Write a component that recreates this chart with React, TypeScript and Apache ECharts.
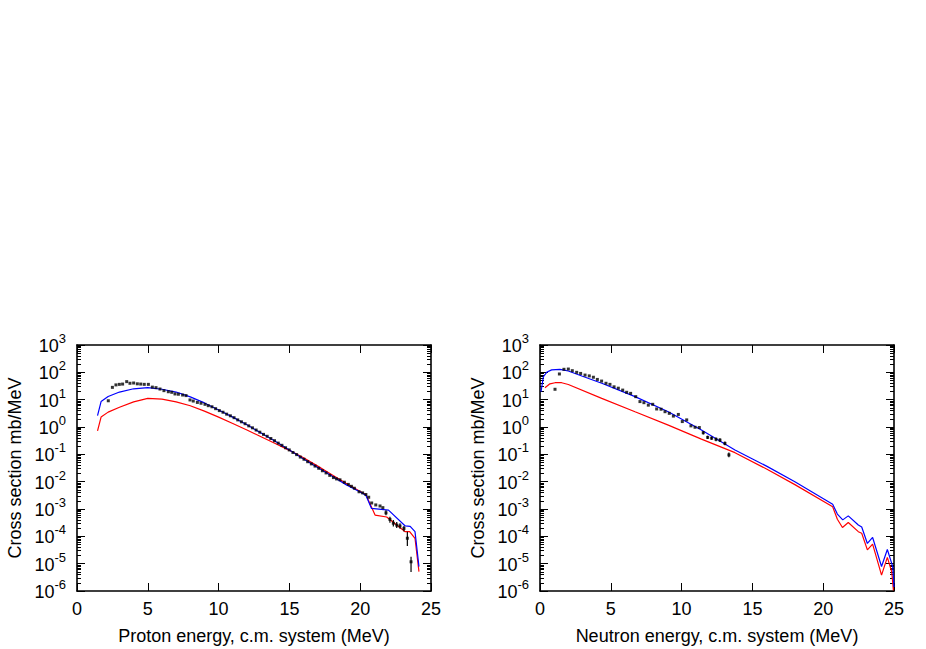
import React, { useEffect, useRef } from "react";
import * as echarts from "echarts";

// ---------- data ----------
// Left panel: proton spectrum
const protonBlue: [number, number][] = [
  [1.45, 2.6], [1.7, 8.5], [2.2, 13], [3.0, 19], [4.0, 25], [5.0, 27.5], [6.0, 24],
  [7.0, 19], [8.0, 12.6], [9.0, 7.6], [10.0, 4.2], [11.0, 2.3], [12.0, 1.2], [13.0, 0.6],
  [14.0, 0.3], [15.0, 0.145], [16.0, 0.068], [17.0, 0.033], [18.0, 0.016], [19.0, 0.0078],
  [20.0, 0.0042], [20.4, 0.0032], [20.8, 0.00105], [22.0, 0.00091], [23.18, 0.00024],
  [23.53, 0.00023], [23.87, 0.000148], [24.15, 0.0000078],
];
const protonRed: [number, number][] = [
  [1.45, 0.72], [1.7, 2.3], [2.2, 3.5], [3.0, 5.3], [4.0, 8.3], [5.0, 11.2], [6.0, 10.5],
  [7.0, 8.3], [8.0, 6.0], [9.0, 3.8], [10.0, 2.3], [11.0, 1.35], [12.0, 0.78], [13.0, 0.44],
  [14.0, 0.25], [15.0, 0.14], [16.0, 0.075], [17.0, 0.037], [18.0, 0.018], [19.0, 0.0088],
  [20.0, 0.0044], [20.4, 0.0034], [21.05, 0.0006], [21.87, 0.00051], [23.18, 0.000148],
  [23.49, 0.000148], [23.87, 0.000085], [24.15, 0.0000051],
];
const protonData: [number, number][] = [
  [2.21, 9.12], [2.5, 28.2], [2.75, 34.7], [2.99, 36.3], [3.22, 37.2], [3.51, 45.7], [3.74, 39.8],
  [4.0, 40.7], [4.26, 38.0], [4.5, 37.2], [4.75, 36.3], [5.04, 36.3], [5.32, 28.8], [5.58, 27.5],
  [5.86, 24.5], [6.14, 21.4], [6.45, 19.5], [6.69, 18.6], [6.92, 16.2], [7.16, 15.8], [7.46, 14.8],
  [7.7, 14.1], [7.98, 9.77], [8.21, 8.91], [8.5, 7.94], [8.76, 7.41], [9.04, 6.76], [9.27, 6.03],
  [9.53, 5.5], [9.79, 4.68], [10.05, 3.98], [10.31, 3.47], [10.57, 2.95], [10.83, 2.57],
  [11.09, 2.19], [11.35, 1.82], [11.61, 1.55], [11.87, 1.32], [12.13, 1.1], [12.39, 0.933],
  [12.65, 0.776], [12.91, 0.646], [13.17, 0.537], [13.43, 0.457], [13.69, 0.38], [13.95, 0.316],
  [14.21, 0.257], [14.47, 0.214], [14.73, 0.174], [14.99, 0.145], [15.25, 0.117], [15.51, 0.0977],
  [15.77, 0.0794], [16.03, 0.0661], [16.29, 0.0537], [16.55, 0.0447], [16.81, 0.0372],
  [17.07, 0.0309], [17.33, 0.0251], [17.59, 0.0209], [17.85, 0.017], [18.11, 0.0141],
  [18.33, 0.0126], [18.57, 0.0117], [18.88, 0.00955], [19.16, 0.00794], [19.38, 0.00676],
  [19.59, 0.00575], [19.92, 0.00427], [20.17, 0.00389], [20.4, 0.00339], [20.6, 0.00269],
  [20.81, 0.00166], [21.1, 0.00141], [21.4, 0.00129], [21.6, 0.00112], [21.82, 0.000724],
  [22.1, 0.000417], [22.34, 0.000302], [22.58, 0.000257], [22.81, 0.00024], [23.09, 0.000195],
  [23.33, 0.0000851], [23.59, 0.0000117],
];
const protonErr: [number, number, number][] = [
  [21.82, 0.000589, 0.000891], [22.1, 0.000316, 0.000525], [22.34, 0.000229, 0.000398],
  [22.58, 0.0002, 0.000331], [22.81, 0.000191, 0.000302], [23.09, 0.000151, 0.00024],
  [23.33, 0.0000447, 0.000148], [23.59, 0.000005, 0.0000178],
];

// Right panel: neutron spectrum
const neutronBlue: [number, number][] = [
  [0.07, 19.5], [0.24, 69], [0.47, 100], [0.82, 123], [1.41, 129], [2.0, 112], [3.0, 72],
  [4.36, 40], [6.71, 12.9], [9.06, 3.6], [11.4, 0.78], [13.77, 0.145], [16.0, 0.037],
  [18.0, 0.01], [20.67, 0.0015], [21.0, 0.00065], [21.38, 0.0004], [21.77, 0.00056],
  [22.48, 0.00026], [22.72, 0.00022], [23.12, 0.000055], [23.49, 0.000091], [24.12, 0.0000079],
  [24.53, 0.000033], [24.91, 0.0000078], [25.0, 0.0000014],
];
const neutronRed: [number, number][] = [
  [0.35, 27.5], [0.7, 38], [1.06, 41.7], [1.53, 41.7], [2.0, 36], [4.36, 11.2], [6.71, 3.6],
  [9.06, 1.17], [11.4, 0.36], [13.77, 0.115], [16.0, 0.029], [18.0, 0.0078], [20.67, 0.0012],
  [21.0, 0.00042], [21.36, 0.00021], [21.77, 0.00032], [22.48, 0.000148], [22.72, 0.000129],
  [23.12, 0.000032], [23.49, 0.000052], [24.12, 0.0000038], [24.53, 0.000017], [24.84, 0.000005],
  [24.96, 0.00000105],
];
const neutronData: [number, number][] = [
  [1.06, 24.0], [1.37, 87.1], [1.69, 129], [2.0, 132], [2.28, 115], [2.59, 100], [2.87, 91.2],
  [3.18, 79.4], [3.48, 74.1], [3.77, 66.1], [4.05, 55.0], [4.35, 47.9], [4.66, 39.8], [4.94, 36.3],
  [5.23, 29.5], [5.53, 26.3], [5.84, 22.4], [6.12, 18.6], [6.4, 17.0], [6.76, 12.9], [7.06, 8.51],
  [7.34, 7.76], [7.65, 6.31], [7.96, 6.76], [8.24, 4.57], [8.55, 4.47], [8.83, 3.63], [9.13, 3.16],
  [9.42, 2.51], [9.77, 2.88], [10.05, 1.58], [10.36, 1.82], [10.66, 1.1], [10.95, 0.977],
  [11.25, 0.955], [11.53, 0.617], [11.84, 0.417], [12.12, 0.389], [12.43, 0.355], [12.71, 0.331],
  [13.06, 0.251], [13.34, 0.0955],
];
const neutronErr: [number, number, number][] = [
  [11.53, 0.537, 0.708], [11.84, 0.363, 0.479], [12.12, 0.339, 0.447], [12.43, 0.302, 0.417],
  [12.71, 0.282, 0.389], [13.06, 0.214, 0.295], [13.34, 0.0776, 0.117],
];

const xTitles = ["Proton energy, c.m. system (MeV)", "Neutron energy, c.m. system (MeV)"];
const yTitle = "Cross section mb/MeV";
const yExponents = [-6, -5, -4, -3, -2, -1, 0, 1, 2, 3];

// ---------- chart ----------
const FONT = '"Liberation Sans", Arial, Helvetica, sans-serif';
const BLUE = "#0000ff";
const RED = "#ff0000";

const minorValues: number[] = [];
for (let d = yExponents[0]; d < yExponents[yExponents.length - 1]; d++) {
  for (let m = 2; m <= 9; m++) minorValues.push(m * Math.pow(10, d));
}
const majorValues = yExponents.map((e) => Math.pow(10, e));

const axisLine = { show: true, onZero: false, lineStyle: { color: "#000", width: 1.6 } };

function xAxes(g: number) {
  const base = {
    type: "value" as const,
    gridIndex: g,
    min: 0,
    max: 25,
    interval: 5,
    splitLine: { show: false },
    axisLine,
    axisTick: { inside: true, length: 8, lineStyle: { color: "#000", width: 1 } },
  };
  return [
    {
      ...base,
      position: "bottom",
      axisLabel: { color: "#000", fontSize: 18, fontFamily: FONT, margin: 9 },
      name: xTitles[g],
      nameLocation: "middle",
      nameGap: 36,
      nameTextStyle: { color: "#000", fontSize: 18, fontFamily: FONT },
    },
    { ...base, position: "top", axisLabel: { show: false } },
  ];
}

function yAxes(g: number) {
  const base = {
    type: "log" as const,
    logBase: 10,
    gridIndex: g,
    min: 1e-6,
    max: 1e3,
    interval: 1,
    splitLine: { show: false },
    minorTick: { show: false },
  };
  const major = {
    ...base,
    axisLine,
    axisTick: {
      inside: true,
      length: 8,
      customValues: majorValues,
      lineStyle: { color: "#000", width: 1 },
    },
  };
  const minor = {
    ...base,
    axisLine: { show: false, onZero: false },
    axisLabel: { show: false },
    axisTick: {
      inside: true,
      length: 4,
      customValues: minorValues,
      lineStyle: { color: "#000", width: 1 },
    },
  };
  return [
    {
      ...major,
      position: "left",
      axisLabel: {
        margin: 11,
        customValues: majorValues,
        formatter: (v: number) => `{b|10}{s|${Math.round(Math.log10(v))}}`,
        rich: {
          b: { fontSize: 18, fontFamily: FONT, color: "#000", lineHeight: 20, verticalAlign: "bottom" },
          s: {
            fontSize: 13,
            fontFamily: FONT,
            color: "#000",
            lineHeight: 13,
            padding: [0, 0, 10, 0],
            verticalAlign: "bottom",
          },
        },
      },
      name: yTitle,
      nameLocation: "middle",
      nameRotate: 90,
      nameGap: 53,
      nameTextStyle: { color: "#000", fontSize: 18, fontFamily: FONT },
    },
    { ...major, position: "right", axisLabel: { show: false } },
    { ...minor, position: "left" },
    { ...minor, position: "right" },
  ];
}

function panelSeries(
  g: number,
  blue: [number, number][],
  red: [number, number][],
  pts: [number, number][],
  err: [number, number, number][]
) {
  const xi = g * 2;
  const yi = g * 4;
  return [
    {
      type: "line",
      xAxisIndex: xi,
      yAxisIndex: yi,
      data: blue,
      showSymbol: false,
      lineStyle: { color: BLUE, width: 1.2 },
      itemStyle: { color: BLUE },
      z: 3,
    },
    {
      type: "line",
      xAxisIndex: xi,
      yAxisIndex: yi,
      data: red,
      showSymbol: false,
      lineStyle: { color: RED, width: 1.2 },
      itemStyle: { color: RED },
      z: 2,
    },
    {
      type: "custom",
      xAxisIndex: xi,
      yAxisIndex: yi,
      data: err,
      encode: { x: 0, y: [1, 2] },
      renderItem: (_p: any, api: any) => {
        const a = api.coord([api.value(0), api.value(1)]);
        const b = api.coord([api.value(0), api.value(2)]);
        return {
          type: "line",
          shape: { x1: a[0], y1: a[1], x2: b[0], y2: b[1] },
          style: { stroke: "#000", lineWidth: 1.2 },
        };
      },
      z: 4,
    },
    {
      type: "scatter",
      xAxisIndex: xi,
      yAxisIndex: yi,
      data: pts,
      symbol: "rect",
      symbolSize: 3,
      itemStyle: { color: "#000" },
      z: 5,
    },
  ];
}

export default function App() {
  const ref = useRef<HTMLDivElement>(null);
  useEffect(() => {
    if (!ref.current) return;
    const chart = echarts.init(ref.current, null, { renderer: "svg" });
    chart.setOption({
      animation: false,
      backgroundColor: "#fff",
      textStyle: { fontFamily: FONT },
      grid: [
        { left: 77, top: 345, width: 354, height: 246 },
        { left: 540, top: 345, width: 354, height: 246 },
      ],
      xAxis: [...xAxes(0), ...xAxes(1)],
      yAxis: [...yAxes(0), ...yAxes(1)],
      series: [
        ...panelSeries(0, protonBlue, protonRed, protonData, protonErr),
        ...panelSeries(1, neutronBlue, neutronRed, neutronData, neutronErr),
      ],
    } as any);
    return () => chart.dispose();
  }, []);
  return (
    <div
      ref={ref}
      style={{ position: "fixed", left: 0, top: 0, width: 926, height: 649, background: "#fff" }}
    />
  );
}
